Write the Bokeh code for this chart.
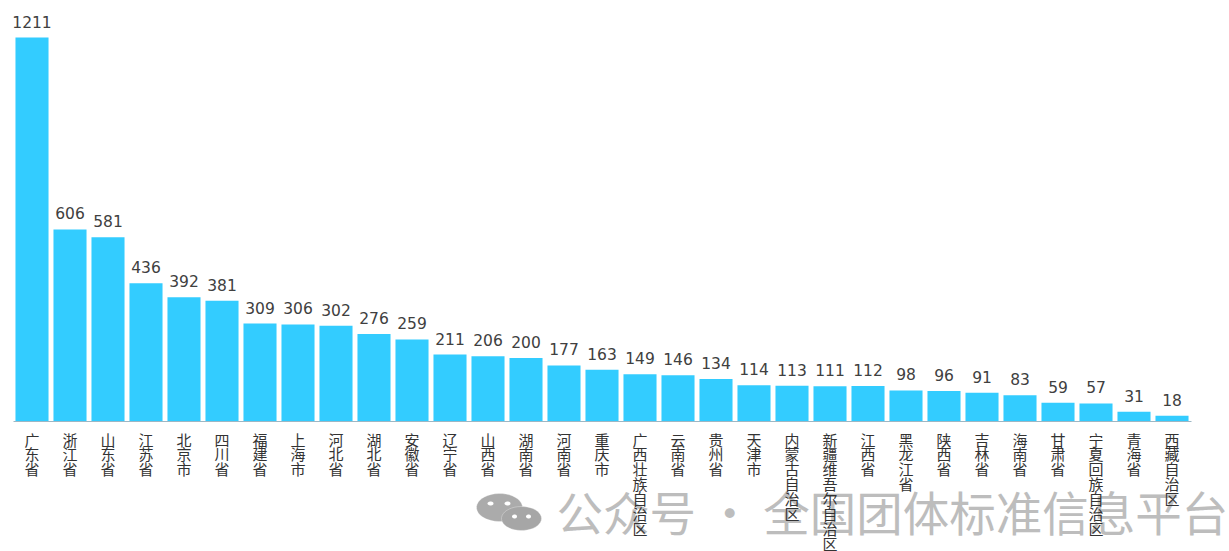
import numpy as np
from bokeh.plotting import figure
from bokeh.models import Range1d, ColumnDataSource, Label, PolyAnnotation, LabelSet, FixedTicker
from bokeh.core.properties import value
from bokeh.embed import file_html
from bokeh.resources import INLINE

provinces = ["广东省","浙江省","山东省","江苏省","北京市","四川省","福建省","上海市","河北省","湖北省","安徽省",
             "辽宁省","山西省","湖南省","河南省","重庆市","广西壮族自治区","云南省","贵州省","天津市","内蒙古自治区",
             "新疆维吾尔自治区","江西省","黑龙江省","陕西省","吉林省","海南省","甘肃省","宁夏回族自治区","青海省","西藏自治区"]
counts = [1211,606,581,436,392,381,309,306,302,276,259,211,206,200,177,163,149,146,134,114,113,111,112,98,96,91,83,59,57,31,18]
watermark = "公众号 · 全国团体标准信息平台"

BAR = "#33CCFF"
W, H = 1229, 551
FL, FB = 12.5, 421        # where the plot's origin lies on the page
STEP = 38.0               # pixels per category
UNIT = 1328 / 421         # value units per pixel
idx = [i + 0.5 for i in range(len(provinces))]

p = figure(width=W, height=H, output_backend="svg", toolbar_location=None,
           x_range=Range1d(-FL / STEP, (W - FL) / STEP),
           y_range=Range1d(-(H - FB) * UNIT, FB * UNIT),
           min_border_left=0, min_border_right=0, min_border_top=0, min_border_bottom=0,
           outline_line_color=None, background_fill_color="white", border_fill_color="white")
p.styles = {"position": "absolute", "left": "0px", "top": "0px"}
p.yaxis.visible = False
p.xgrid.visible = False
p.ygrid.visible = False
ax = p.xaxis[0]
ax.fixed_location = 0
ax.ticker = FixedTicker(ticks=idx)
ax.major_label_overrides = {x: "\n".join(n) for x, n in zip(idx, provinces)}
ax.axis_line_color = "#9DB7C4"
ax.axis_line_width = 1
ax.bounds = (0, 31)
ax.major_tick_line_color = None
ax.minor_tick_line_color = None
ax.major_label_standoff = 1
ax.major_label_text_font = "Noto Sans CJK SC"
ax.major_label_text_font_size = "15px"
ax.major_label_text_line_height = 0.71
ax.major_label_text_color = "#333333"
ax.major_label_orientation = "horizontal"

src = ColumnDataSource(dict(x=idx, top=counts, label=[str(v) for v in counts]))
p.vbar(x="x", top="top", width=0.87, source=src, fill_color=BAR, line_color=None)
p.add_layout(LabelSet(x="x", y="top", text="label", source=src, text_align="center", text_baseline="bottom",
                      y_offset=10, text_font=value("DejaVu Sans"), text_font_size="15.5px", text_color="#404040"))

# watermark
p.add_layout(Label(x=556, y=H - 527 + 17, x_units="screen", y_units="screen", text=watermark, level="underlay",
                   text_font="Noto Sans CJK SC", text_font_size="46.5px", text_color="#BDBDBD", text_baseline="alphabetic"))
t = np.linspace(0, 2 * np.pi, 40)
for cx, cy, rx, ry, col in [(499, 507, 23, 14, "#ABABAB"), (521, 518, 20, 12, "#A6A6A6"),
                            (490, 503, 3, 2, "white"), (507, 503, 3, 2, "white"),
                            (514, 516, 2.5, 2, "white"), (528, 516, 2.5, 2, "white")]:
    p.add_layout(PolyAnnotation(xs=list(cx + rx * np.cos(t)), ys=list(H - cy + ry * np.sin(t)),
                                xs_units="screen", ys_units="screen", fill_color=col, fill_alpha=1,
                                line_color=None if col == "white" else "white", line_width=1, level="underlay"))

open("out.html", "w").write(file_html(p, INLINE))
